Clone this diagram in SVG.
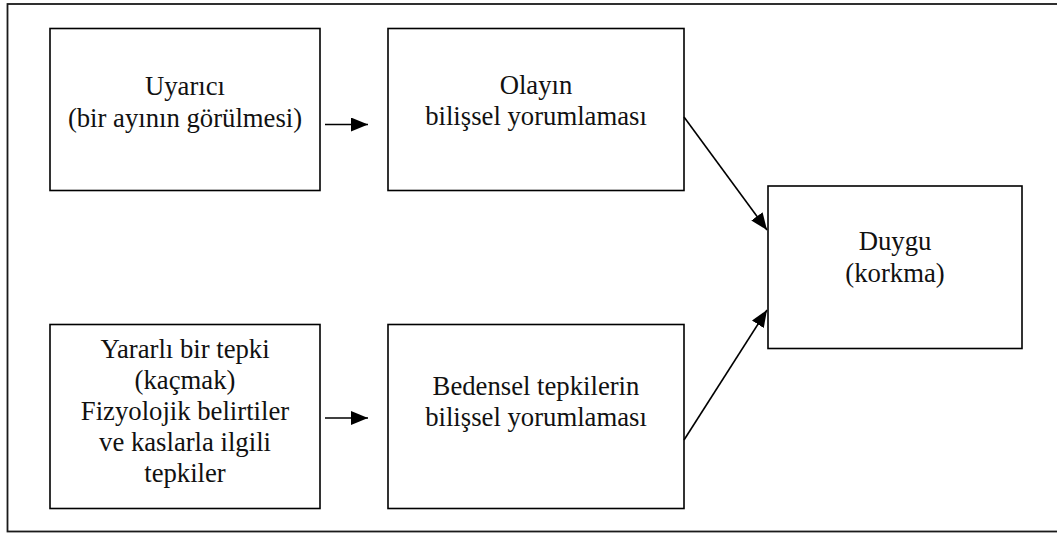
<svg xmlns="http://www.w3.org/2000/svg" width="1057" height="533" viewBox="0 0 1057 533">
  <style>
    .box { fill: #ffffff; stroke: #000000; stroke-width: 1.6; }
    .frame { fill: none; stroke: #1a1a1a; stroke-width: 1.8; }
    text { font-family: "Liberation Serif", serif; font-size: 26.7px; fill: #111111; text-anchor: middle; }
    .conn { stroke: #000000; stroke-width: 1.6; fill: none; marker-end: url(#head); }
  </style>
  <defs>
    <marker id="head" markerUnits="userSpaceOnUse" markerWidth="18" markerHeight="15" refX="17" refY="7" orient="auto">
      <path d="M0,0 L17,7 L0,14 Z" fill="#000000"/>
    </marker>
  </defs>

  <rect width="1057" height="533" fill="#ffffff"/>

  <!-- outer frame (right side runs off the page) -->
  <rect class="frame" x="7.5" y="4" width="1060" height="527.5"/>

  <g id="uyarici">
    <rect class="box" x="50" y="28.5" width="270" height="162"/>
    <text x="185" y="95">Uyarıcı</text>
    <text x="185" y="126.5">(bir ayının görülmesi)</text>
  </g>

  <g id="olay-yorum">
    <rect class="box" x="388" y="28.5" width="296" height="162"/>
    <text x="536" y="93.5">Olayın</text>
    <text x="536" y="125">bilişsel yorumlaması</text>
  </g>

  <g id="duygu">
    <rect class="box" x="768" y="186" width="254" height="162.5"/>
    <text x="895" y="250">Duygu</text>
    <text x="895" y="281.5">(korkma)</text>
  </g>

  <g id="tepki">
    <rect class="box" x="50" y="324.5" width="270" height="184"/>
    <text x="185" y="358">Yararlı bir tepki</text>
    <text x="185" y="389">(kaçmak)</text>
    <text x="185" y="420">Fizyolojik belirtiler</text>
    <text x="185" y="451">ve kaslarla ilgili</text>
    <text x="185" y="482">tepkiler</text>
  </g>

  <g id="beden-yorum">
    <rect class="box" x="388" y="324.5" width="296" height="184"/>
    <text x="536" y="395">Bedensel tepkilerin</text>
    <text x="536" y="426">bilişsel yorumlaması</text>
  </g>

  <g id="connectors">
    <line class="conn" x1="325" y1="124.5" x2="368" y2="124.5"/>
    <line class="conn" x1="325" y1="418" x2="368" y2="418"/>
    <line class="conn" x1="684" y1="117" x2="767" y2="230"/>
    <line class="conn" x1="684" y1="440" x2="767" y2="310"/>
  </g>
</svg>
